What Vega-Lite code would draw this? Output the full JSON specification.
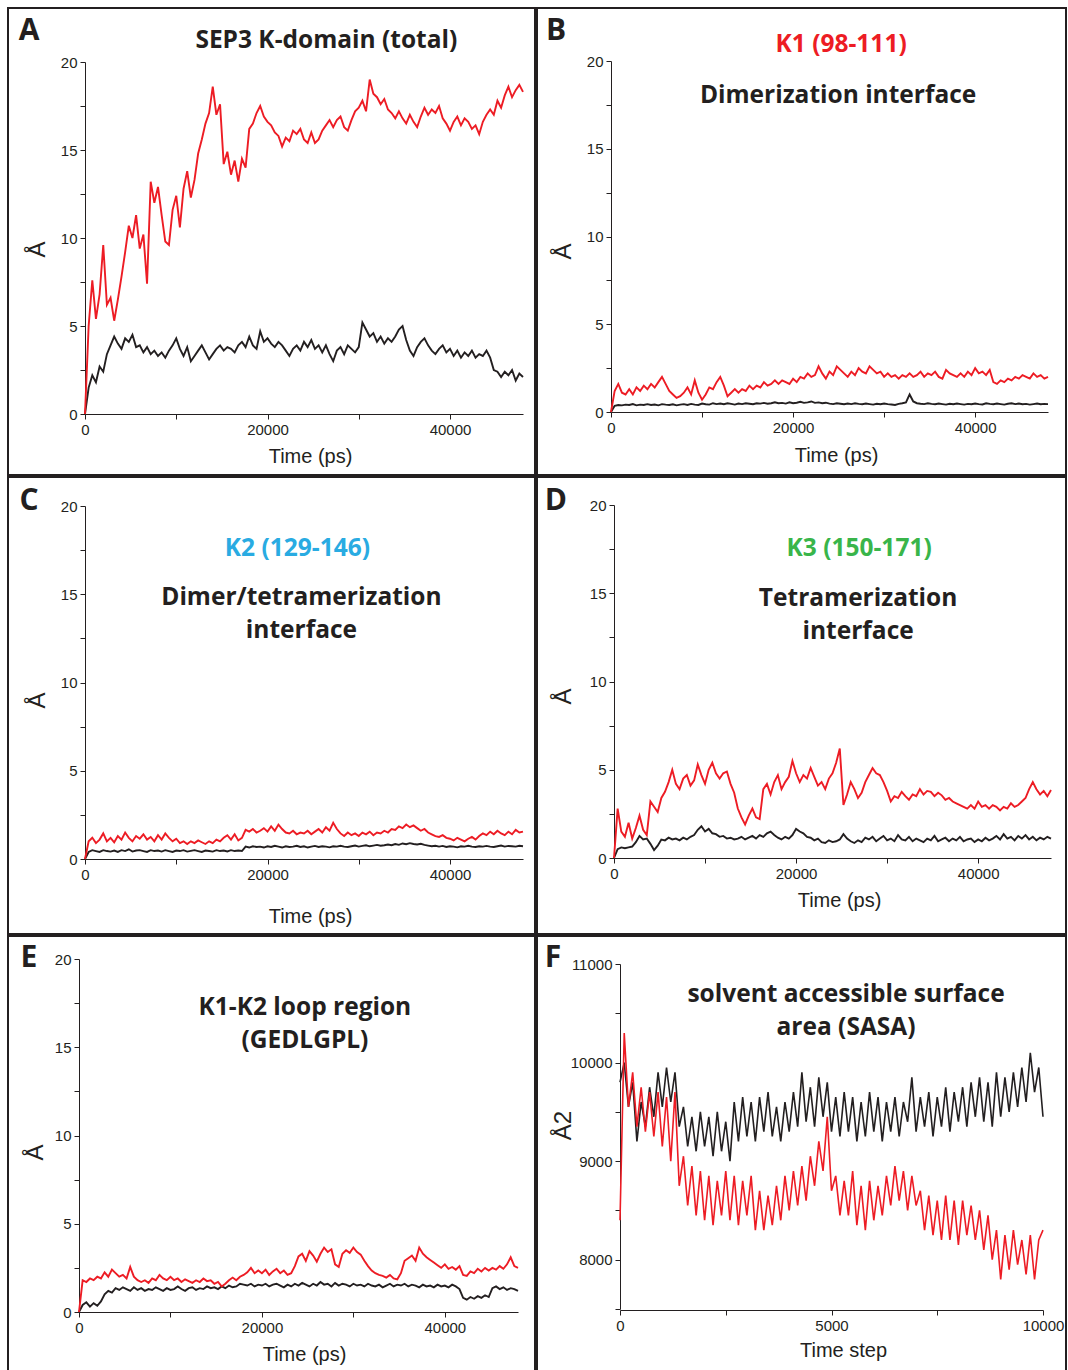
{
"$schema": "https://vega.github.io/schema/vega-lite/v6.json",
"background": "white",
"padding": {"left": 7, "top": 7, "right": 0, "bottom": 0},
"datasets": {
"ps": [
{"t":0,"ar":0,"ak":0,"br":0,"bk":0,"cr":0,"ck":0,"dr":0,"dk":0,"er":0,"ek":0},
{"t":400,"ar":5.0,"ak":1.5,"br":1.2,"bk":0.35,"cr":1.0,"ck":0.4,"dr":2.8,"dk":0.5,"er":1.8,"ek":0.4},
{"t":800,"ar":7.6,"ak":2.2,"br":1.6,"bk":0.4,"cr":1.2,"ck":0.5,"dr":1.5,"dk":0.6,"er":1.7,"ek":0.55},
{"t":1200,"ar":5.4,"ak":1.8,"br":1.1,"bk":0.38,"cr":0.9,"ck":0.45,"dr":1.2,"dk":0.55,"er":1.9,"ek":0.3},
{"t":1600,"ar":6.8,"ak":2.7,"br":1.0,"bk":0.42,"cr":1.1,"ck":0.4,"dr":2.0,"dk":0.6,"er":1.8,"ek":0.5},
{"t":2000,"ar":9.6,"ak":2.4,"br":1.3,"bk":0.4,"cr":1.45,"ck":0.5,"dr":1.1,"dk":0.65,"er":2.0,"ek":0.35},
{"t":2400,"ar":6.2,"ak":3.4,"br":1.0,"bk":0.45,"cr":1.0,"ck":0.45,"dr":1.7,"dk":0.9,"er":1.9,"ek":0.6},
{"t":2800,"ar":6.6,"ak":3.9,"br":1.4,"bk":0.38,"cr":1.2,"ck":0.42,"dr":2.4,"dk":1.25,"er":2.25,"ek":1.0},
{"t":3200,"ar":5.3,"ak":4.4,"br":1.2,"bk":0.42,"cr":0.95,"ck":0.48,"dr":1.6,"dk":1.05,"er":2.0,"ek":1.2},
{"t":3600,"ar":6.5,"ak":4.0,"br":1.5,"bk":0.4,"cr":1.3,"ck":0.4,"dr":1.3,"dk":1.1,"er":2.4,"ek":1.1},
{"t":4000,"ar":7.8,"ak":3.7,"br":1.3,"bk":0.45,"cr":1.1,"ck":0.5,"dr":3.2,"dk":0.8,"er":2.2,"ek":1.35},
{"t":4400,"ar":9.2,"ak":4.3,"br":1.6,"bk":0.4,"cr":1.5,"ck":0.45,"dr":2.9,"dk":0.45,"er":2.0,"ek":1.25},
{"t":4800,"ar":10.7,"ak":4.1,"br":1.4,"bk":0.43,"cr":1.2,"ck":0.55,"dr":2.6,"dk":0.7,"er":2.1,"ek":1.4},
{"t":5200,"ar":10.0,"ak":4.5,"br":1.7,"bk":0.38,"cr":1.0,"ck":0.42,"dr":3.4,"dk":1.05,"er":1.9,"ek":1.3},
{"t":5600,"ar":11.3,"ak":3.8,"br":2.0,"bk":0.45,"cr":1.3,"ck":0.48,"dr":3.75,"dk":1.0,"er":2.55,"ek":1.2},
{"t":6000,"ar":9.4,"ak":3.9,"br":1.6,"bk":0.42,"cr":1.15,"ck":0.5,"dr":4.3,"dk":1.15,"er":2.0,"ek":1.4},
{"t":6400,"ar":10.2,"ak":3.5,"br":1.2,"bk":0.4,"cr":1.4,"ck":0.45,"dr":5.0,"dk":1.05,"er":1.8,"ek":1.25},
{"t":6800,"ar":7.4,"ak":3.8,"br":1.0,"bk":0.44,"cr":1.1,"ck":0.4,"dr":4.2,"dk":1.1,"er":1.7,"ek":1.35},
{"t":7200,"ar":13.2,"ak":3.4,"br":0.8,"bk":0.38,"cr":1.25,"ck":0.5,"dr":3.9,"dk":1.0,"er":1.8,"ek":1.2},
{"t":7600,"ar":12.0,"ak":3.6,"br":0.9,"bk":0.42,"cr":1.0,"ck":0.45,"dr":4.5,"dk":1.15,"er":1.65,"ek":1.3},
{"t":8000,"ar":12.9,"ak":3.3,"br":1.1,"bk":0.45,"cr":1.35,"ck":0.48,"dr":4.7,"dk":1.05,"er":1.9,"ek":1.25},
{"t":8400,"ar":11.3,"ak":3.5,"br":1.4,"bk":0.4,"cr":1.1,"ck":0.42,"dr":4.1,"dk":1.2,"er":1.8,"ek":1.4},
{"t":8800,"ar":9.8,"ak":3.2,"br":1.0,"bk":0.46,"cr":1.45,"ck":0.5,"dr":4.4,"dk":1.3,"er":2.1,"ek":1.3},
{"t":9200,"ar":9.6,"ak":3.6,"br":1.8,"bk":0.42,"cr":1.2,"ck":0.45,"dr":5.3,"dk":1.6,"er":1.9,"ek":1.2},
{"t":9600,"ar":11.6,"ak":3.9,"br":1.1,"bk":0.4,"cr":1.0,"ck":0.4,"dr":4.7,"dk":1.8,"er":1.8,"ek":1.35},
{"t":10000,"ar":12.4,"ak":4.3,"br":0.7,"bk":0.48,"cr":1.15,"ck":0.48,"dr":4.2,"dk":1.5,"er":2.0,"ek":1.25},
{"t":10400,"ar":10.6,"ak":3.7,"br":1.0,"bk":0.44,"cr":0.9,"ck":0.45,"dr":5.0,"dk":1.65,"er":1.8,"ek":1.3},
{"t":10800,"ar":12.8,"ak":3.3,"br":1.4,"bk":0.42,"cr":1.0,"ck":0.5,"dr":5.4,"dk":1.4,"er":1.9,"ek":1.45},
{"t":11200,"ar":13.8,"ak":3.8,"br":1.3,"bk":0.5,"cr":0.85,"ck":0.42,"dr":4.8,"dk":1.35,"er":1.7,"ek":1.3},
{"t":11600,"ar":12.3,"ak":3.0,"br":1.7,"bk":0.45,"cr":1.0,"ck":0.46,"dr":4.5,"dk":1.2,"er":1.85,"ek":1.2},
{"t":12000,"ar":13.3,"ak":3.3,"br":2.0,"bk":0.48,"cr":0.9,"ck":0.5,"dr":4.8,"dk":1.25,"er":1.75,"ek":1.35},
{"t":12400,"ar":14.8,"ak":3.6,"br":1.5,"bk":0.44,"cr":1.05,"ck":0.45,"dr":4.9,"dk":1.1,"er":1.65,"ek":1.4},
{"t":12800,"ar":15.6,"ak":3.9,"br":0.9,"bk":0.5,"cr":0.95,"ck":0.4,"dr":4.2,"dk":1.15,"er":1.8,"ek":1.25},
{"t":13200,"ar":16.5,"ak":3.5,"br":1.1,"bk":0.46,"cr":0.85,"ck":0.48,"dr":3.7,"dk":1.05,"er":1.7,"ek":1.35},
{"t":13600,"ar":17.1,"ak":3.1,"br":1.3,"bk":0.42,"cr":1.0,"ck":0.45,"dr":2.8,"dk":1.1,"er":1.9,"ek":1.3},
{"t":14000,"ar":18.6,"ak":3.4,"br":1.1,"bk":0.48,"cr":0.9,"ck":0.42,"dr":2.3,"dk":1.2,"er":1.75,"ek":1.45},
{"t":14400,"ar":17.0,"ak":3.7,"br":1.3,"bk":0.45,"cr":1.1,"ck":0.5,"dr":1.9,"dk":1.05,"er":1.8,"ek":1.35},
{"t":14800,"ar":17.6,"ak":3.9,"br":1.2,"bk":0.5,"cr":1.0,"ck":0.45,"dr":2.4,"dk":1.15,"er":1.6,"ek":1.4},
{"t":15200,"ar":14.2,"ak":3.6,"br":1.5,"bk":0.47,"cr":1.2,"ck":0.48,"dr":2.8,"dk":1.25,"er":1.7,"ek":1.3},
{"t":15600,"ar":14.9,"ak":3.8,"br":1.3,"bk":0.44,"cr":1.35,"ck":0.43,"dr":2.3,"dk":1.1,"er":1.45,"ek":1.45},
{"t":16000,"ar":13.6,"ak":3.7,"br":1.5,"bk":0.5,"cr":1.1,"ck":0.5,"dr":2.2,"dk":1.3,"er":1.6,"ek":1.35},
{"t":16400,"ar":14.4,"ak":3.5,"br":1.4,"bk":0.48,"cr":1.4,"ck":0.45,"dr":3.9,"dk":1.2,"er":1.8,"ek":1.5},
{"t":16800,"ar":13.2,"ak":3.9,"br":1.7,"bk":0.52,"cr":1.05,"ck":0.48,"dr":4.2,"dk":1.4,"er":1.95,"ek":1.4},
{"t":17200,"ar":14.5,"ak":4.1,"br":1.5,"bk":0.47,"cr":1.2,"ck":0.45,"dr":3.6,"dk":1.5,"er":1.8,"ek":1.45},
{"t":17600,"ar":14.0,"ak":3.8,"br":1.6,"bk":0.5,"cr":1.65,"ck":0.7,"dr":4.3,"dk":1.3,"er":2.0,"ek":1.6},
{"t":18000,"ar":16.2,"ak":4.4,"br":1.8,"bk":0.55,"cr":1.55,"ck":0.65,"dr":4.7,"dk":1.15,"er":2.1,"ek":1.55},
{"t":18400,"ar":16.5,"ak":3.9,"br":1.6,"bk":0.5,"cr":1.7,"ck":0.72,"dr":3.9,"dk":1.05,"er":2.25,"ek":1.5},
{"t":18800,"ar":17.1,"ak":3.7,"br":1.8,"bk":0.52,"cr":1.5,"ck":0.68,"dr":4.3,"dk":1.2,"er":2.5,"ek":1.6},
{"t":19200,"ar":17.5,"ak":4.7,"br":1.7,"bk":0.48,"cr":1.6,"ck":0.7,"dr":4.6,"dk":1.1,"er":2.2,"ek":1.45},
{"t":19600,"ar":16.9,"ak":4.1,"br":1.6,"bk":0.55,"cr":1.75,"ck":0.65,"dr":5.5,"dk":1.3,"er":2.35,"ek":1.55},
{"t":20000,"ar":16.6,"ak":4.3,"br":1.9,"bk":0.5,"cr":1.55,"ck":0.72,"dr":4.8,"dk":1.65,"er":2.2,"ek":1.5},
{"t":20400,"ar":16.4,"ak":4.0,"br":1.7,"bk":0.53,"cr":1.85,"ck":0.68,"dr":4.3,"dk":1.5,"er":2.4,"ek":1.6},
{"t":20800,"ar":16.0,"ak":3.8,"br":2.0,"bk":0.58,"cr":1.6,"ck":0.75,"dr":4.7,"dk":1.4,"er":2.1,"ek":1.45},
{"t":21200,"ar":15.8,"ak":4.1,"br":1.9,"bk":0.52,"cr":1.95,"ck":0.7,"dr":4.5,"dk":1.2,"er":2.3,"ek":1.55},
{"t":21600,"ar":15.2,"ak":3.9,"br":2.2,"bk":0.55,"cr":1.7,"ck":0.65,"dr":5.1,"dk":1.15,"er":2.45,"ek":1.6},
{"t":22000,"ar":15.7,"ak":3.6,"br":2.0,"bk":0.6,"cr":1.5,"ck":0.72,"dr":4.6,"dk":1.0,"er":2.2,"ek":1.5},
{"t":22400,"ar":15.5,"ak":3.3,"br":2.1,"bk":0.52,"cr":1.45,"ck":0.68,"dr":4.1,"dk":1.1,"er":2.35,"ek":1.4},
{"t":22800,"ar":16.1,"ak":3.7,"br":2.6,"bk":0.55,"cr":1.6,"ck":0.7,"dr":4.3,"dk":0.9,"er":2.1,"ek":1.55},
{"t":23200,"ar":15.9,"ak":3.9,"br":2.2,"bk":0.5,"cr":1.4,"ck":0.75,"dr":3.9,"dk":0.85,"er":2.2,"ek":1.45},
{"t":23600,"ar":16.2,"ak":3.6,"br":1.9,"bk":0.53,"cr":1.5,"ck":0.68,"dr":4.5,"dk":1.0,"er":2.6,"ek":1.6},
{"t":24000,"ar":15.6,"ak":4.1,"br":2.3,"bk":0.48,"cr":1.45,"ck":0.72,"dr":4.8,"dk":0.9,"er":3.15,"ek":1.5},
{"t":24400,"ar":15.4,"ak":3.8,"br":2.1,"bk":0.45,"cr":1.6,"ck":0.65,"dr":5.4,"dk":0.95,"er":3.3,"ek":1.65},
{"t":24800,"ar":16.0,"ak":4.2,"br":2.6,"bk":0.5,"cr":1.4,"ck":0.7,"dr":6.2,"dk":1.05,"er":2.9,"ek":1.55},
{"t":25200,"ar":15.4,"ak":3.7,"br":2.4,"bk":0.47,"cr":1.55,"ck":0.74,"dr":3.0,"dk":1.35,"er":3.45,"ek":1.45},
{"t":25600,"ar":15.6,"ak":3.9,"br":2.2,"bk":0.44,"cr":1.7,"ck":0.68,"dr":3.6,"dk":1.1,"er":3.2,"ek":1.6},
{"t":26000,"ar":16.1,"ak":3.5,"br":2.0,"bk":0.48,"cr":1.5,"ck":0.72,"dr":4.3,"dk":0.95,"er":2.85,"ek":1.5},
{"t":26400,"ar":16.4,"ak":3.9,"br":2.3,"bk":0.45,"cr":1.8,"ck":0.7,"dr":3.9,"dk":0.85,"er":3.3,"ek":1.7},
{"t":26800,"ar":16.7,"ak":3.4,"br":2.1,"bk":0.5,"cr":1.6,"ck":0.66,"dr":3.4,"dk":1.0,"er":3.65,"ek":1.55},
{"t":27200,"ar":16.3,"ak":3.0,"br":2.5,"bk":0.46,"cr":2.05,"ck":0.72,"dr":3.7,"dk":0.9,"er":3.4,"ek":1.6},
{"t":27600,"ar":16.7,"ak":3.6,"br":2.3,"bk":0.44,"cr":1.7,"ck":0.7,"dr":4.3,"dk":1.15,"er":3.55,"ek":1.45},
{"t":28000,"ar":16.9,"ak":3.8,"br":2.2,"bk":0.48,"cr":1.45,"ck":0.75,"dr":4.7,"dk":1.05,"er":2.7,"ek":1.65},
{"t":28400,"ar":16.3,"ak":3.4,"br":2.6,"bk":0.45,"cr":1.3,"ck":0.7,"dr":5.1,"dk":1.2,"er":2.55,"ek":1.5},
{"t":28800,"ar":16.1,"ak":3.9,"br":2.4,"bk":0.42,"cr":1.5,"ck":0.68,"dr":4.8,"dk":0.95,"er":3.3,"ek":1.6},
{"t":29200,"ar":16.7,"ak":3.7,"br":2.2,"bk":0.47,"cr":1.35,"ck":0.72,"dr":4.7,"dk":1.1,"er":3.5,"ek":1.55},
{"t":29600,"ar":17.2,"ak":3.5,"br":2.3,"bk":0.44,"cr":1.45,"ck":0.76,"dr":4.3,"dk":1.25,"er":3.35,"ek":1.45},
{"t":30000,"ar":17.4,"ak":3.8,"br":2.0,"bk":0.48,"cr":1.3,"ck":0.7,"dr":3.8,"dk":1.0,"er":3.65,"ek":1.6},
{"t":30400,"ar":17.8,"ak":5.2,"br":2.2,"bk":0.45,"cr":1.5,"ck":0.74,"dr":3.2,"dk":1.1,"er":3.4,"ek":1.5},
{"t":30800,"ar":17.2,"ak":4.8,"br":2.0,"bk":0.43,"cr":1.4,"ck":0.78,"dr":3.5,"dk":0.95,"er":3.25,"ek":1.55},
{"t":31200,"ar":19.0,"ak":4.4,"br":2.1,"bk":0.4,"cr":1.55,"ck":0.72,"dr":3.4,"dk":1.3,"er":2.9,"ek":1.45},
{"t":31600,"ar":18.2,"ak":4.6,"br":1.9,"bk":0.46,"cr":1.35,"ck":0.76,"dr":3.75,"dk":1.05,"er":2.6,"ek":1.6},
{"t":32000,"ar":18.0,"ak":4.1,"br":2.1,"bk":0.5,"cr":1.5,"ck":0.8,"dr":3.5,"dk":1.0,"er":2.35,"ek":1.5},
{"t":32400,"ar":17.6,"ak":4.4,"br":2.0,"bk":0.55,"cr":1.45,"ck":0.75,"dr":3.3,"dk":1.2,"er":2.2,"ek":1.45},
{"t":32800,"ar":17.9,"ak":4.0,"br":2.2,"bk":1.0,"cr":1.6,"ck":0.78,"dr":3.6,"dk":0.95,"er":2.1,"ek":1.55},
{"t":33200,"ar":17.3,"ak":4.3,"br":2.0,"bk":0.6,"cr":1.5,"ck":0.82,"dr":3.5,"dk":1.1,"er":2.05,"ek":1.4},
{"t":33600,"ar":17.1,"ak":4.1,"br":2.1,"bk":0.5,"cr":1.7,"ck":0.78,"dr":3.9,"dk":1.0,"er":1.95,"ek":1.5},
{"t":34000,"ar":16.8,"ak":4.4,"br":2.3,"bk":0.47,"cr":1.65,"ck":0.85,"dr":3.6,"dk":0.9,"er":2.1,"ek":1.6},
{"t":34400,"ar":17.2,"ak":4.8,"br":2.0,"bk":0.45,"cr":1.85,"ck":0.8,"dr":3.8,"dk":1.1,"er":1.9,"ek":1.45},
{"t":34800,"ar":16.8,"ak":5.0,"br":2.2,"bk":0.5,"cr":1.75,"ck":0.88,"dr":3.75,"dk":1.0,"er":1.85,"ek":1.55},
{"t":35200,"ar":16.5,"ak":4.2,"br":2.1,"bk":0.46,"cr":1.95,"ck":0.84,"dr":3.5,"dk":1.25,"er":2.2,"ek":1.5},
{"t":35600,"ar":17.0,"ak":3.6,"br":2.3,"bk":0.44,"cr":1.8,"ck":0.9,"dr":3.7,"dk":0.95,"er":2.9,"ek":1.6},
{"t":36000,"ar":16.6,"ak":3.3,"br":2.0,"bk":0.48,"cr":1.9,"ck":0.85,"dr":3.55,"dk":1.05,"er":3.05,"ek":1.45},
{"t":36400,"ar":16.3,"ak":3.8,"br":1.9,"bk":0.45,"cr":1.75,"ck":0.82,"dr":3.3,"dk":1.15,"er":3.2,"ek":1.55},
{"t":36800,"ar":16.9,"ak":4.1,"br":2.4,"bk":0.42,"cr":1.6,"ck":0.86,"dr":3.4,"dk":0.95,"er":2.9,"ek":1.5},
{"t":37200,"ar":17.4,"ak":4.3,"br":2.2,"bk":0.47,"cr":1.7,"ck":0.8,"dr":3.2,"dk":1.1,"er":3.65,"ek":1.4},
{"t":37600,"ar":17.0,"ak":3.9,"br":2.1,"bk":0.44,"cr":1.5,"ck":0.76,"dr":3.1,"dk":1.0,"er":3.3,"ek":1.55},
{"t":38000,"ar":17.3,"ak":3.6,"br":2.0,"bk":0.48,"cr":1.4,"ck":0.72,"dr":3.0,"dk":1.2,"er":3.1,"ek":1.45},
{"t":38400,"ar":17.1,"ak":3.4,"br":2.2,"bk":0.45,"cr":1.3,"ck":0.75,"dr":2.9,"dk":0.95,"er":2.95,"ek":1.5},
{"t":38800,"ar":17.5,"ak":3.7,"br":2.0,"bk":0.42,"cr":1.25,"ck":0.7,"dr":2.8,"dk":1.05,"er":2.8,"ek":1.4},
{"t":39200,"ar":16.8,"ak":3.9,"br":2.3,"bk":0.46,"cr":1.35,"ck":0.74,"dr":3.0,"dk":1.1,"er":2.65,"ek":1.55},
{"t":39600,"ar":16.5,"ak":3.5,"br":2.1,"bk":0.44,"cr":1.2,"ck":0.68,"dr":2.8,"dk":0.9,"er":2.5,"ek":1.45},
{"t":40000,"ar":16.1,"ak":3.7,"br":2.5,"bk":0.48,"cr":1.15,"ck":0.72,"dr":3.2,"dk":1.05,"er":2.7,"ek":1.5},
{"t":40400,"ar":16.6,"ak":3.3,"br":2.2,"bk":0.45,"cr":1.05,"ck":0.7,"dr":2.9,"dk":0.95,"er":2.45,"ek":1.4},
{"t":40800,"ar":16.9,"ak":3.6,"br":2.3,"bk":0.43,"cr":1.2,"ck":0.66,"dr":3.0,"dk":1.15,"er":2.55,"ek":1.55},
{"t":41200,"ar":16.4,"ak":3.2,"br":2.1,"bk":0.5,"cr":1.1,"ck":0.72,"dr":2.8,"dk":1.0,"er":2.4,"ek":1.45},
{"t":41600,"ar":16.8,"ak":3.5,"br":2.4,"bk":0.46,"cr":1.0,"ck":0.7,"dr":3.0,"dk":1.1,"er":2.6,"ek":1.3},
{"t":42000,"ar":16.6,"ak":3.3,"br":1.7,"bk":0.44,"cr":1.15,"ck":0.75,"dr":2.9,"dk":1.25,"er":2.1,"ek":0.8},
{"t":42400,"ar":16.2,"ak":3.6,"br":1.6,"bk":0.48,"cr":1.25,"ck":0.7,"dr":2.7,"dk":1.05,"er":2.05,"ek":0.7},
{"t":42800,"ar":16.4,"ak":3.2,"br":1.8,"bk":0.45,"cr":1.1,"ck":0.68,"dr":2.9,"dk":1.35,"er":2.3,"ek":0.85},
{"t":43200,"ar":15.9,"ak":3.4,"br":1.7,"bk":0.42,"cr":1.3,"ck":0.72,"dr":2.8,"dk":1.1,"er":2.2,"ek":0.75},
{"t":43600,"ar":16.6,"ak":3.3,"br":1.9,"bk":0.47,"cr":1.45,"ck":0.7,"dr":3.1,"dk":1.2,"er":2.45,"ek":0.9},
{"t":44000,"ar":17.0,"ak":3.6,"br":1.8,"bk":0.5,"cr":1.35,"ck":0.74,"dr":2.9,"dk":1.0,"er":2.3,"ek":0.8},
{"t":44400,"ar":17.3,"ak":3.2,"br":2.0,"bk":0.45,"cr":1.55,"ck":0.7,"dr":3.0,"dk":1.25,"er":2.5,"ek":0.95},
{"t":44800,"ar":17.0,"ak":2.5,"br":1.9,"bk":0.48,"cr":1.4,"ck":0.68,"dr":3.2,"dk":1.1,"er":2.35,"ek":0.85},
{"t":45200,"ar":17.8,"ak":2.4,"br":2.1,"bk":0.44,"cr":1.6,"ck":0.72,"dr":3.4,"dk":1.3,"er":2.5,"ek":1.35},
{"t":45600,"ar":17.4,"ak":2.1,"br":2.0,"bk":0.46,"cr":1.45,"ck":0.76,"dr":3.9,"dk":1.05,"er":2.4,"ek":1.45},
{"t":46000,"ar":18.1,"ak":2.4,"br":1.9,"bk":0.42,"cr":1.35,"ck":0.7,"dr":4.3,"dk":1.2,"er":2.6,"ek":1.3},
{"t":46400,"ar":18.6,"ak":2.2,"br":2.2,"bk":0.45,"cr":1.55,"ck":0.74,"dr":3.9,"dk":1.0,"er":2.45,"ek":1.4},
{"t":46800,"ar":18.0,"ak":2.5,"br":2.0,"bk":0.48,"cr":1.4,"ck":0.72,"dr":3.6,"dk":1.15,"er":2.7,"ek":1.25},
{"t":47200,"ar":18.4,"ak":1.9,"br":2.1,"bk":0.44,"cr":1.65,"ck":0.7,"dr":3.8,"dk":1.05,"er":3.1,"ek":1.35},
{"t":47600,"ar":18.7,"ak":2.3,"br":1.9,"bk":0.46,"cr":1.5,"ck":0.75,"dr":3.5,"dk":1.2,"er":2.6,"ek":1.3},
{"t":48000,"ar":18.3,"ak":2.1,"br":2.0,"bk":0.45,"cr":1.55,"ck":0.72,"dr":3.85,"dk":1.1,"er":2.5,"ek":1.2}
],
"sasa": [
{"t":0,"fr":8400,"fk":9800},{"t":100,"fr":10300,"fk":10000},{"t":200,"fr":9550,"fk":9550},{"t":300,"fr":9900,"fk":9800},{"t":400,"fr":9350,"fk":9200},
{"t":500,"fr":9750,"fk":9600},{"t":600,"fr":9300,"fk":9350},{"t":700,"fr":9700,"fk":9750},{"t":800,"fr":9250,"fk":9450},{"t":900,"fr":9700,"fk":9900},
{"t":1000,"fr":9150,"fk":9550},{"t":1100,"fr":9650,"fk":9950},{"t":1200,"fr":9000,"fk":9600},{"t":1300,"fr":9700,"fk":9900},{"t":1400,"fr":8750,"fk":9350},
{"t":1500,"fr":9050,"fk":9550},{"t":1600,"fr":8550,"fk":9150},{"t":1700,"fr":8950,"fk":9450},{"t":1800,"fr":8450,"fk":9100},{"t":1900,"fr":8900,"fk":9500},
{"t":2000,"fr":8400,"fk":9150},{"t":2100,"fr":8850,"fk":9450},{"t":2200,"fr":8350,"fk":9050},{"t":2300,"fr":8800,"fk":9500},{"t":2400,"fr":8450,"fk":9100},
{"t":2500,"fr":8900,"fk":9400},{"t":2600,"fr":8400,"fk":9000},{"t":2700,"fr":8850,"fk":9600},{"t":2800,"fr":8350,"fk":9200},{"t":2900,"fr":8800,"fk":9650},
{"t":3000,"fr":8450,"fk":9250},{"t":3100,"fr":8850,"fk":9600},{"t":3200,"fr":8300,"fk":9200},{"t":3300,"fr":8700,"fk":9650},{"t":3400,"fr":8300,"fk":9300},
{"t":3500,"fr":8650,"fk":9700},{"t":3600,"fr":8350,"fk":9250},{"t":3700,"fr":8750,"fk":9550},{"t":3800,"fr":8400,"fk":9200},{"t":3900,"fr":8850,"fk":9600},
{"t":4000,"fr":8500,"fk":9300},{"t":4100,"fr":8900,"fk":9700},{"t":4200,"fr":8550,"fk":9350},{"t":4300,"fr":8950,"fk":9900},{"t":4400,"fr":8600,"fk":9400},
{"t":4500,"fr":9050,"fk":9750},{"t":4600,"fr":8750,"fk":9350},{"t":4700,"fr":9200,"fk":9850},{"t":4800,"fr":8900,"fk":9450},{"t":4900,"fr":9450,"fk":9800},
{"t":5000,"fr":8700,"fk":9300},{"t":5100,"fr":8850,"fk":9650},{"t":5200,"fr":8450,"fk":9250},{"t":5300,"fr":8800,"fk":9700},{"t":5400,"fr":8450,"fk":9300},
{"t":5500,"fr":8900,"fk":9650},{"t":5600,"fr":8350,"fk":9200},{"t":5700,"fr":8750,"fk":9600},{"t":5800,"fr":8300,"fk":9250},{"t":5900,"fr":8800,"fk":9700},
{"t":6000,"fr":8400,"fk":9300},{"t":6100,"fr":8750,"fk":9650},{"t":6200,"fr":8450,"fk":9200},{"t":6300,"fr":8850,"fk":9600},{"t":6400,"fr":8550,"fk":9300},
{"t":6500,"fr":8950,"fk":9650},{"t":6600,"fr":8600,"fk":9250},{"t":6700,"fr":8900,"fk":9600},{"t":6800,"fr":8500,"fk":9400},{"t":6900,"fr":8850,"fk":9850},
{"t":7000,"fr":8550,"fk":9300},{"t":7100,"fr":8700,"fk":9650},{"t":7200,"fr":8300,"fk":9350},{"t":7300,"fr":8650,"fk":9700},{"t":7400,"fr":8250,"fk":9250},
{"t":7500,"fr":8600,"fk":9650},{"t":7600,"fr":8200,"fk":9350},{"t":7700,"fr":8650,"fk":9750},{"t":7800,"fr":8200,"fk":9300},{"t":7900,"fr":8600,"fk":9700},
{"t":8000,"fr":8150,"fk":9400},{"t":8100,"fr":8600,"fk":9750},{"t":8200,"fr":8250,"fk":9350},{"t":8300,"fr":8550,"fk":9800},{"t":8400,"fr":8200,"fk":9450},
{"t":8500,"fr":8500,"fk":9850},{"t":8600,"fr":8100,"fk":9400},{"t":8700,"fr":8450,"fk":9800},{"t":8800,"fr":8000,"fk":9350},{"t":8900,"fr":8300,"fk":9900},
{"t":9000,"fr":7800,"fk":9450},{"t":9100,"fr":8250,"fk":9850},{"t":9200,"fr":7900,"fk":9500},{"t":9300,"fr":8300,"fk":9900},{"t":9400,"fr":7950,"fk":9550},
{"t":9500,"fr":8200,"fk":9950},{"t":9600,"fr":7850,"fk":9600},{"t":9700,"fr":8250,"fk":10100},{"t":9800,"fr":7800,"fk":9700},{"t":9900,"fr":8200,"fk":9950},
{"t":10000,"fr":8300,"fk":9450}
],
"labels": [
{"p":"A","role":"letter","t":-6120,"v":21.75,"txt":"A"},
{"p":"A","role":"title","t":26448,"v":21.17,"txt":"SEP3 K-domain (total)"},
{"p":"B","role":"letter","t":-6044,"v":21.7,"txt":"B"},
{"p":"B","role":"k1","t":25275,"v":20.94,"txt":"K1 (98-111)"},
{"p":"B","role":"title","t":24945,"v":17.98,"txt":"Dimerization interface"},
{"p":"C","role":"letter","t":-6120,"v":20.27,"txt":"C"},
{"p":"C","role":"k2","t":23279,"v":17.54,"txt":"K2 (129-146)"},
{"p":"C","role":"title","t":23716,"v":14.76,"txt":"Dimer/tetramerization"},
{"p":"C","role":"title","t":23716,"v":12.89,"txt":"interface"},
{"p":"D","role":"letter","t":-6374,"v":20.21,"txt":"D"},
{"p":"D","role":"k3","t":26923,"v":17.48,"txt":"K3 (150-171)"},
{"p":"D","role":"title","t":26813,"v":14.7,"txt":"Tetramerization"},
{"p":"D","role":"title","t":26813,"v":12.83,"txt":"interface"},
{"p":"E","role":"letter","t":-5464,"v":20.04,"txt":"E"},
{"p":"E","role":"title","t":24699,"v":17.25,"txt":"K1-K2 loop region"},
{"p":"E","role":"title","t":24699,"v":15.38,"txt":"(GEDLGPL)"},
{"p":"F","role":"letter","t":-1584,"v":11060,"txt":"F"},
{"p":"F","role":"title","t":5343,"v":10681,"txt":"solvent accessible surface"},
{"p":"F","role":"title","t":5343,"v":10347,"txt":"area (SASA)"}
]
},
"vconcat": [
{"hconcat": [
{"width": 527, "height": 467,
 "encoding": {
  "x": {"field": "t", "type": "quantitative", "scale": {"domain": [0, 48000], "range": [77, 515], "nice": false, "zero": false},
   "axis": {"values": [0, 10000, 20000, 30000, 40000], "format": "d", "labelExpr": "datum.value % 20000 === 0 ? datum.label : ''", "title": "Time (ps)", "offset": -61, "titleX": 302, "titleY": 42, "titleBaseline": "middle", "titleAlign": "center"}},
  "y": {"field": "v", "type": "quantitative", "scale": {"domain": [0, 20], "range": [406, 54], "nice": false},
   "axis": {"values": [0, 2.5, 5, 7.5, 10, 12.5, 15, 17.5, 20], "labelExpr": "datum.value % 5 === 0 ? datum.label : ''", "title": "Å", "offset": -77, "titleX": -48, "titleY": 241, "titleBaseline": "middle", "titleAlign": "center"}}},
 "layer": [
  {"data": {"name": "ps"}, "transform": [{"fold": ["ak"], "as": ["s", "v"]}], "mark": {"type": "line", "color": "#231f20", "strokeWidth": 1.9}},
  {"data": {"name": "ps"}, "transform": [{"fold": ["ar"], "as": ["s", "v"]}], "mark": {"type": "line", "color": "#ed1c24", "strokeWidth": 1.9}},
  {"data": {"name": "labels"}, "transform": [{"filter": "datum.p === 'A' && datum.role === 'letter'"}],
   "mark": {"type": "text", "font": "Open Sans", "fontWeight": "bold", "fontSize": 30, "align": "center", "baseline": "middle", "color": "#231f20"},
   "encoding": {"text": {"field": "txt"}}},
  {"data": {"name": "labels"}, "transform": [{"filter": "datum.p === 'A' && datum.role !== 'letter'"}],
   "mark": {"type": "text", "font": "Open Sans", "fontWeight": "bold", "fontSize": 24.5, "align": "center", "baseline": "middle"},
   "encoding": {"text": {"field": "txt"}, "color": {"field": "role", "type": "nominal", "scale": {"domain": ["title", "k1", "k2", "k3"], "range": ["#231f20", "#ed1c24", "#29abe2", "#39b54a"]}, "legend": null}}}
 ]},
{"width": 529, "height": 467,
 "encoding": {
  "x": {"field": "t", "type": "quantitative", "scale": {"domain": [0, 48000], "range": [74, 511], "nice": false, "zero": false},
   "axis": {"values": [0, 10000, 20000, 30000, 40000], "format": "d", "labelExpr": "datum.value % 20000 === 0 ? datum.label : ''", "title": "Time (ps)", "offset": -63, "titleX": 299, "titleY": 43, "titleBaseline": "middle", "titleAlign": "center"}},
  "y": {"field": "v", "type": "quantitative", "scale": {"domain": [0, 20], "range": [404, 53], "nice": false},
   "axis": {"values": [0, 2.5, 5, 7.5, 10, 12.5, 15, 17.5, 20], "labelExpr": "datum.value % 5 === 0 ? datum.label : ''", "title": "Å", "offset": -74, "titleX": -48, "titleY": 243, "titleBaseline": "middle", "titleAlign": "center"}}},
 "layer": [
  {"data": {"name": "ps"}, "transform": [{"fold": ["bk"], "as": ["s", "v"]}], "mark": {"type": "line", "color": "#231f20", "strokeWidth": 1.9}},
  {"data": {"name": "ps"}, "transform": [{"fold": ["br"], "as": ["s", "v"]}], "mark": {"type": "line", "color": "#ed1c24", "strokeWidth": 1.9}},
  {"data": {"name": "labels"}, "transform": [{"filter": "datum.p === 'B' && datum.role === 'letter'"}],
   "mark": {"type": "text", "font": "Open Sans", "fontWeight": "bold", "fontSize": 30, "align": "center", "baseline": "middle", "color": "#231f20"},
   "encoding": {"text": {"field": "txt"}}},
  {"data": {"name": "labels"}, "transform": [{"filter": "datum.p === 'B' && datum.role !== 'letter'"}],
   "mark": {"type": "text", "font": "Open Sans", "fontWeight": "bold", "fontSize": 24.5, "align": "center", "baseline": "middle"},
   "encoding": {"text": {"field": "txt"}, "color": {"field": "role", "type": "nominal", "scale": {"domain": ["title", "k1", "k2", "k3"], "range": ["#231f20", "#ed1c24", "#29abe2", "#39b54a"]}, "legend": null}}}
 ]}
], "spacing": 0},
{"hconcat": [
{"width": 527, "height": 457,
 "encoding": {
  "x": {"field": "t", "type": "quantitative", "scale": {"domain": [0, 48000], "range": [77, 515], "nice": false, "zero": false},
   "axis": {"values": [0, 10000, 20000, 30000, 40000], "format": "d", "labelExpr": "datum.value % 20000 === 0 ? datum.label : ''", "title": "Time (ps)", "offset": -75, "titleX": 302, "titleY": 57, "titleBaseline": "middle", "titleAlign": "center"}},
  "y": {"field": "v", "type": "quantitative", "scale": {"domain": [0, 20], "range": [382, 29], "nice": false},
   "axis": {"values": [0, 2.5, 5, 7.5, 10, 12.5, 15, 17.5, 20], "labelExpr": "datum.value % 5 === 0 ? datum.label : ''", "title": "Å", "offset": -77, "titleX": -48, "titleY": 223, "titleBaseline": "middle", "titleAlign": "center"}}},
 "layer": [
  {"data": {"name": "ps"}, "transform": [{"fold": ["ck"], "as": ["s", "v"]}], "mark": {"type": "line", "color": "#231f20", "strokeWidth": 1.9}},
  {"data": {"name": "ps"}, "transform": [{"fold": ["cr"], "as": ["s", "v"]}], "mark": {"type": "line", "color": "#ed1c24", "strokeWidth": 1.9}},
  {"data": {"name": "labels"}, "transform": [{"filter": "datum.p === 'C' && datum.role === 'letter'"}],
   "mark": {"type": "text", "font": "Open Sans", "fontWeight": "bold", "fontSize": 30, "align": "center", "baseline": "middle", "color": "#231f20"},
   "encoding": {"text": {"field": "txt"}}},
  {"data": {"name": "labels"}, "transform": [{"filter": "datum.p === 'C' && datum.role !== 'letter'"}],
   "mark": {"type": "text", "font": "Open Sans", "fontWeight": "bold", "fontSize": 24.5, "align": "center", "baseline": "middle"},
   "encoding": {"text": {"field": "txt"}, "color": {"field": "role", "type": "nominal", "scale": {"domain": ["title", "k1", "k2", "k3"], "range": ["#231f20", "#ed1c24", "#29abe2", "#39b54a"]}, "legend": null}}}
 ]},
{"width": 529, "height": 457,
 "encoding": {
  "x": {"field": "t", "type": "quantitative", "scale": {"domain": [0, 48000], "range": [77, 514], "nice": false, "zero": false},
   "axis": {"values": [0, 10000, 20000, 30000, 40000], "format": "d", "labelExpr": "datum.value % 20000 === 0 ? datum.label : ''", "title": "Time (ps)", "offset": -76, "titleX": 302, "titleY": 42, "titleBaseline": "middle", "titleAlign": "center"}},
  "y": {"field": "v", "type": "quantitative", "scale": {"domain": [0, 20], "range": [381, 28], "nice": false},
   "axis": {"values": [0, 2.5, 5, 7.5, 10, 12.5, 15, 17.5, 20], "labelExpr": "datum.value % 5 === 0 ? datum.label : ''", "title": "Å", "offset": -77, "titleX": -51, "titleY": 219, "titleBaseline": "middle", "titleAlign": "center"}}},
 "layer": [
  {"data": {"name": "ps"}, "transform": [{"fold": ["dk"], "as": ["s", "v"]}], "mark": {"type": "line", "color": "#231f20", "strokeWidth": 1.9}},
  {"data": {"name": "ps"}, "transform": [{"fold": ["dr"], "as": ["s", "v"]}], "mark": {"type": "line", "color": "#ed1c24", "strokeWidth": 1.9}},
  {"data": {"name": "labels"}, "transform": [{"filter": "datum.p === 'D' && datum.role === 'letter'"}],
   "mark": {"type": "text", "font": "Open Sans", "fontWeight": "bold", "fontSize": 30, "align": "center", "baseline": "middle", "color": "#231f20"},
   "encoding": {"text": {"field": "txt"}}},
  {"data": {"name": "labels"}, "transform": [{"filter": "datum.p === 'D' && datum.role !== 'letter'"}],
   "mark": {"type": "text", "font": "Open Sans", "fontWeight": "bold", "fontSize": 24.5, "align": "center", "baseline": "middle"},
   "encoding": {"text": {"field": "txt"}, "color": {"field": "role", "type": "nominal", "scale": {"domain": ["title", "k1", "k2", "k3"], "range": ["#231f20", "#ed1c24", "#29abe2", "#39b54a"]}, "legend": null}}}
 ]}
], "spacing": 0},
{"hconcat": [
{"width": 527, "height": 440,
 "encoding": {
  "x": {"field": "t", "type": "quantitative", "scale": {"domain": [0, 48000], "range": [71, 510], "nice": false, "zero": false},
   "axis": {"values": [0, 10000, 20000, 30000, 40000], "format": "d", "labelExpr": "datum.value % 20000 === 0 ? datum.label : ''", "title": "Time (ps)", "offset": -64, "titleX": 296, "titleY": 42, "titleBaseline": "middle", "titleAlign": "center"}},
  "y": {"field": "v", "type": "quantitative", "scale": {"domain": [0, 20], "range": [376, 23], "nice": false},
   "axis": {"values": [0, 2.5, 5, 7.5, 10, 12.5, 15, 17.5, 20], "labelExpr": "datum.value % 5 === 0 ? datum.label : ''", "title": "Å", "offset": -71, "titleX": -44, "titleY": 216, "titleBaseline": "middle", "titleAlign": "center"}}},
 "layer": [
  {"data": {"name": "ps"}, "transform": [{"fold": ["ek"], "as": ["s", "v"]}], "mark": {"type": "line", "color": "#231f20", "strokeWidth": 1.9}},
  {"data": {"name": "ps"}, "transform": [{"fold": ["er"], "as": ["s", "v"]}], "mark": {"type": "line", "color": "#ed1c24", "strokeWidth": 1.9}},
  {"data": {"name": "labels"}, "transform": [{"filter": "datum.p === 'E' && datum.role === 'letter'"}],
   "mark": {"type": "text", "font": "Open Sans", "fontWeight": "bold", "fontSize": 30, "align": "center", "baseline": "middle", "color": "#231f20"},
   "encoding": {"text": {"field": "txt"}}},
  {"data": {"name": "labels"}, "transform": [{"filter": "datum.p === 'E' && datum.role !== 'letter'"}],
   "mark": {"type": "text", "font": "Open Sans", "fontWeight": "bold", "fontSize": 24.5, "align": "center", "baseline": "middle"},
   "encoding": {"text": {"field": "txt"}, "color": {"field": "role", "type": "nominal", "scale": {"domain": ["title", "k1", "k2", "k3"], "range": ["#231f20", "#ed1c24", "#29abe2", "#39b54a"]}, "legend": null}}}
 ]},
{"width": 529, "height": 440,
 "encoding": {
  "x": {"field": "t", "type": "quantitative", "scale": {"domain": [0, 10000], "range": [83, 506], "nice": false, "zero": false},
   "axis": {"values": [0, 2500, 5000, 7500, 10000], "format": "d", "labelExpr": "datum.value % 5000 === 0 ? datum.label : ''", "title": "Time step", "offset": -66, "titleX": 306, "titleY": 40, "titleBaseline": "middle", "titleAlign": "center"}},
  "y": {"field": "v", "type": "quantitative", "scale": {"domain": [7500, 11000], "range": [373, 28], "nice": false, "zero": false},
   "axis": {"values": [7500, 8000, 8500, 9000, 9500, 10000, 10500, 11000], "format": "d", "labelExpr": "datum.value % 1000 === 0 && datum.value >= 8000 ? datum.label : ''", "title": "Å2", "offset": -83, "titleX": -57, "titleY": 189, "titleBaseline": "middle", "titleAlign": "center"}}},
 "layer": [
  {"data": {"name": "sasa"}, "transform": [{"fold": ["fk"], "as": ["s", "v"]}], "mark": {"type": "line", "color": "#231f20", "strokeWidth": 1.6}},
  {"data": {"name": "sasa"}, "transform": [{"fold": ["fr"], "as": ["s", "v"]}], "mark": {"type": "line", "color": "#ed1c24", "strokeWidth": 1.6}},
  {"data": {"name": "labels"}, "transform": [{"filter": "datum.p === 'F' && datum.role === 'letter'"}],
   "mark": {"type": "text", "font": "Open Sans", "fontWeight": "bold", "fontSize": 30, "align": "center", "baseline": "middle", "color": "#231f20"},
   "encoding": {"text": {"field": "txt"}}},
  {"data": {"name": "labels"}, "transform": [{"filter": "datum.p === 'F' && datum.role !== 'letter'"}],
   "mark": {"type": "text", "font": "Open Sans", "fontWeight": "bold", "fontSize": 24.5, "align": "center", "baseline": "middle"},
   "encoding": {"text": {"field": "txt"}, "color": {"field": "role", "type": "nominal", "scale": {"domain": ["title", "k1", "k2", "k3"], "range": ["#231f20", "#ed1c24", "#29abe2", "#39b54a"]}, "legend": null}}}
 ]}
], "spacing": 0}
],
"spacing": 0,
"config": {
 "view": {"stroke": "#231f20", "strokeWidth": 2},
 "axis": {"grid": false, "domainColor": "#231f20", "domainWidth": 1, "tickColor": "#231f20", "tickWidth": 1, "tickSize": 5, "labelPadding": 3,
  "labelFont": "Liberation Sans", "labelFontSize": 15, "labelColor": "#231f20", "titleFont": "Liberation Sans", "titleFontWeight": "normal", "titleColor": "#231f20", "titleFontSize": 20,
  "labelOverlap": false, "labelFlush": false, "labelBound": false},
 "axisY": {"titleFontSize": 24}
}
}
